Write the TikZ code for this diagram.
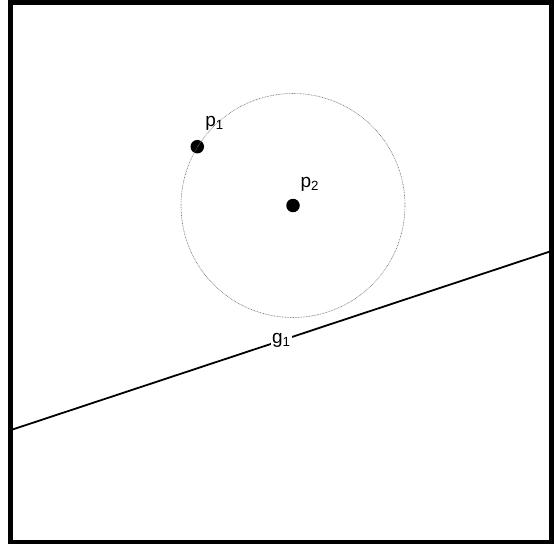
\documentclass[tikz,border=0pt]{standalone}
\usepackage{fontspec}
\setmainfont{Liberation Sans}
\usetikzlibrary{positioning}

\begin{document}
\begin{tikzpicture}[
    x=1pt, y=-1pt,
    pt/.style={circle, fill=black, inner sep=0pt, minimum size=13.5pt},
    lbl/.style={inner sep=0pt, font=\fontsize{19}{21}\selectfont},
    gline/.style={line width=1.8pt, draw=black},
    circ/.style={draw=black!55, line width=0.6pt, dash pattern=on 0.8pt off 0.8pt},
  ]
  \useasboundingbox (0,0) rectangle (554,544);
  \draw[line width=4.5pt] (10.5,2.5) rectangle (551.5,542);
  \node[pt] (p2) at (293,205.5) {};
  \node[pt] (p1) at (197.3,146.7) {};
  \draw[circ] (p2.center) circle (112pt);
  \node[lbl, above right=11pt and 3pt of p1] (lp1) {p\textsubscript{1}};
  \node[lbl, above right=9pt and 2.5pt of p2] (lp2) {p\textsubscript{2}};
  \coordinate (g1a) at (12.5,429.5);
  \coordinate (g1b) at (550,251.5);
  \draw[gline] (g1a) -- node[lbl, fill=white, inner sep=1.5pt] (lg1) {g\textsubscript{1}} (g1b);
\end{tikzpicture}
\end{document}
